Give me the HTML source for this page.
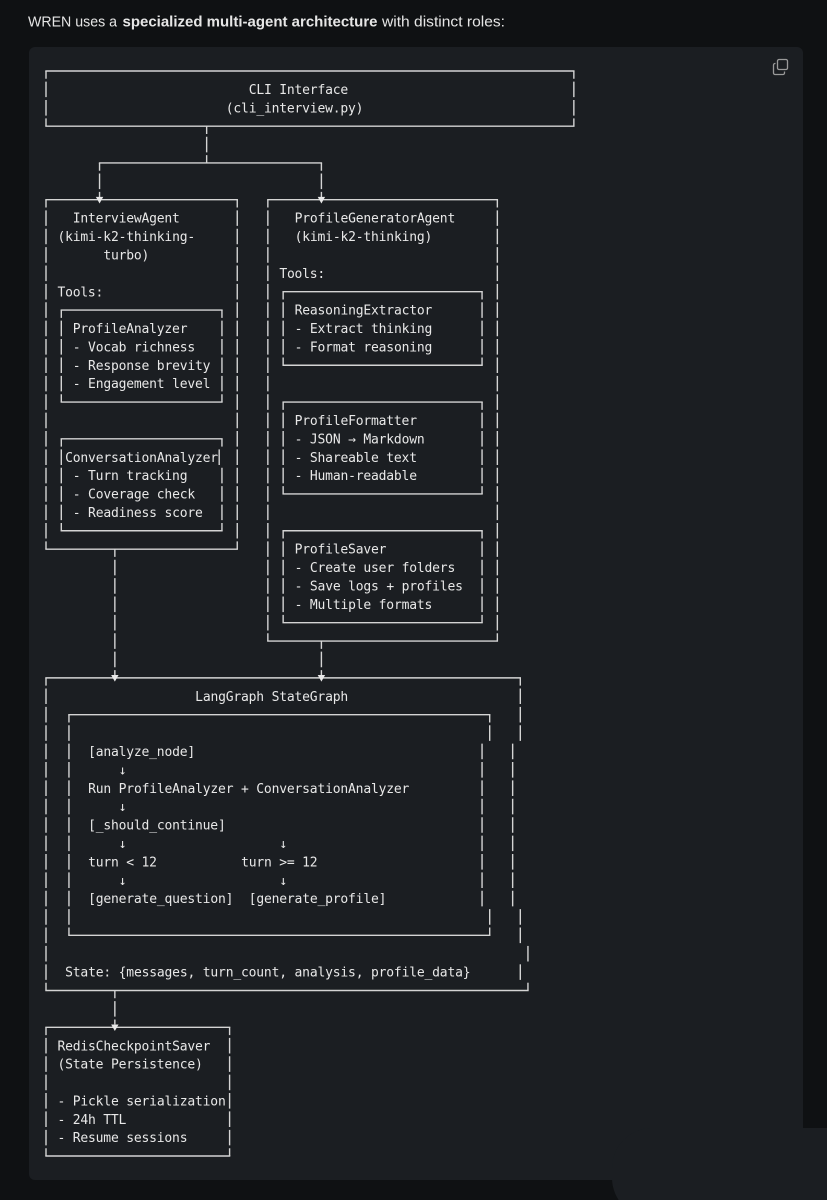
<!DOCTYPE html>
<html>
<head>
<meta charset="utf-8">
<style>
  html,body{margin:0;padding:0;background:#0f1113;}
  body{width:827px;height:1200px;overflow:hidden;}
  svg{display:block;}
  .h{stroke:#d4d4d4;stroke-width:1.4;stroke-linecap:square;fill:none;}
  .v{stroke:#d4d4d4;stroke-width:1.4;stroke-dasharray:15.59 2.8;stroke-dashoffset:7.795;fill:none;}
  .vb{stroke:#d4d4d4;stroke-width:1.4;stroke-dasharray:15.59 2.8;stroke-dashoffset:16.99;fill:none;}
  .t{font-family:"DejaVu Sans Mono","Liberation Mono",monospace;font-size:13px;fill:#e8e8e8;white-space:pre;}
  .tri{fill:#e8e8e8;}
  .hd{font-family:"Liberation Sans",sans-serif;font-size:15px;fill:#e6e6e6;}
</style>
</head>
<body>
<svg width="827" height="1200" viewBox="0 0 827 1200" xmlns="http://www.w3.org/2000/svg">
  <rect x="0" y="0" width="827" height="1200" fill="#0f1113"/>
  <rect x="29" y="47" width="774" height="1133" rx="6" fill="#1b1e22"/>
  <rect x="612" y="1128" width="260" height="90" rx="40" fill="#1b1e22"/>

  <!-- header -->
  <text class="hd" x="28" y="26.5" textLength="89" lengthAdjust="spacingAndGlyphs">WREN uses a</text>
  <text class="hd" x="122.5" y="26.5" font-weight="bold" fill="#f2f2f2" textLength="255" lengthAdjust="spacingAndGlyphs">specialized multi-agent architecture</text>
  <text class="hd" x="382" y="26.5" textLength="123" lengthAdjust="spacingAndGlyphs">with distinct roles:</text>

  <!-- copy icon -->
  <rect x="777.5" y="59.5" width="10" height="10" rx="1.5" fill="none" stroke="#9a9a9a" stroke-width="1.3"/>
  <path d="M775.5 63.5 h-0.5 a1.5 1.5 0 0 0 -1.5 1.5 v8 a1.5 1.5 0 0 0 1.5 1.5 h8 a1.5 1.5 0 0 0 1.5 -1.5 v-1.5" fill="none" stroke="#9a9a9a" stroke-width="1.3"/>

  <!-- ===== Top box ===== -->
  <line class="h" x1="46" y1="71" x2="573.85" y2="71"/>
  <line class="h" x1="46" y1="126.17" x2="573.85" y2="126.17"/>
  <line class="v" x1="46" y1="71" x2="46" y2="126.17"/>
  <line class="v" x1="573.85" y1="71" x2="573.85" y2="126.17"/>
  <text class="t" x="248.725" y="93.99" textLength="99.45" lengthAdjust="spacing">CLI Interface</text>
  <text class="t" x="225.775" y="112.38" textLength="137.7" lengthAdjust="spacing">(cli_interview.py)</text>

  <!-- connector split -->
  <line class="v" x1="206.65" y1="126.17" x2="206.65" y2="162.95"/>
  <line class="h" x1="99.55" y1="162.95" x2="321.4" y2="162.95"/>
  <line class="v" x1="99.55" y1="162.95" x2="99.55" y2="197"/>
  <line class="v" x1="321.4" y1="162.95" x2="321.4" y2="197"/>

  <!-- ===== InterviewAgent box ===== -->
  <line class="h" x1="46" y1="199.73" x2="237.25" y2="199.73"/>
  <line class="h" x1="46" y1="549.14" x2="237.25" y2="549.14"/>
  <line class="v" x1="46" y1="199.73" x2="46" y2="549.14"/>
  <line class="v" x1="237.25" y1="199.73" x2="237.25" y2="549.14"/>
  <polygon class="tri" points="95.85,196.9 103.25,196.9 99.55,203.5"/>
  <text class="t" x="72.775" y="222.72" textLength="107.1" lengthAdjust="spacing">InterviewAgent</text>
  <text class="t" x="57.475" y="241.11" textLength="137.7" lengthAdjust="spacing">(kimi-k2-thinking-</text>
  <text class="t" x="103.375" y="259.5" textLength="45.9" lengthAdjust="spacing">turbo)</text>
  <text class="t" x="57.475" y="296.28" textLength="45.9" lengthAdjust="spacing">Tools:</text>

  <!-- ProfileAnalyzer box -->
  <line class="h" x1="61.3" y1="310.07" x2="221.95" y2="310.07"/>
  <line class="h" x1="61.3" y1="402.02" x2="221.95" y2="402.02"/>
  <line class="v" x1="61.3" y1="310.07" x2="61.3" y2="402.02"/>
  <line class="v" x1="221.95" y1="310.07" x2="221.95" y2="402.02"/>
  <text class="t" x="72.775" y="333.06" textLength="114.75" lengthAdjust="spacing">ProfileAnalyzer</text>
  <text class="t" x="72.775" y="351.45" textLength="122.4" lengthAdjust="spacing">- Vocab richness</text>
  <text class="t" x="72.775" y="369.84" textLength="137.7" lengthAdjust="spacing">- Response brevity</text>
  <text class="t" x="72.775" y="388.23" textLength="137.7" lengthAdjust="spacing">- Engagement level</text>

  <!-- ConversationAnalyzer box -->
  <line class="h" x1="61.3" y1="438.8" x2="221.95" y2="438.8"/>
  <line class="h" x1="61.3" y1="530.75" x2="221.95" y2="530.75"/>
  <line class="v" x1="61.3" y1="438.8" x2="61.3" y2="530.75"/>
  <line class="v" x1="221.95" y1="438.8" x2="221.95" y2="448"/>
  <line class="vb" x1="219.2" y1="448" x2="219.2" y2="466.39"/>
  <line class="vb" x1="221.95" y1="466.39" x2="221.95" y2="530.75"/>
  <text class="t" x="65.125" y="461.79" textLength="153" lengthAdjust="spacing">ConversationAnalyzer</text>
  <text class="t" x="72.775" y="480.18" textLength="114.75" lengthAdjust="spacing">- Turn tracking</text>
  <text class="t" x="72.775" y="498.57" textLength="122.4" lengthAdjust="spacing">- Coverage check</text>
  <text class="t" x="72.775" y="516.96" textLength="130.05" lengthAdjust="spacing">- Readiness score</text>

  <!-- connector Interview -> LangGraph -->
  <line class="v" x1="114.85" y1="549.14" x2="114.85" y2="675"/>

  <!-- ===== ProfileGeneratorAgent box ===== -->
  <line class="h" x1="267.85" y1="199.73" x2="497.35" y2="199.73"/>
  <line class="h" x1="267.85" y1="641.09" x2="497.35" y2="641.09"/>
  <line class="v" x1="267.85" y1="199.73" x2="267.85" y2="641.09"/>
  <line class="v" x1="497.35" y1="199.73" x2="497.35" y2="641.09"/>
  <polygon class="tri" points="317.7,196.9 325.1,196.9 321.4,203.5"/>
  <text class="t" x="294.625" y="222.72" textLength="160.65" lengthAdjust="spacing">ProfileGeneratorAgent</text>
  <text class="t" x="294.625" y="241.11" textLength="137.7" lengthAdjust="spacing">(kimi-k2-thinking)</text>
  <text class="t" x="279.325" y="277.89" textLength="45.9" lengthAdjust="spacing">Tools:</text>

  <!-- ReasoningExtractor -->
  <line class="h" x1="283.15" y1="291.68" x2="482.05" y2="291.68"/>
  <line class="h" x1="283.15" y1="365.24" x2="482.05" y2="365.24"/>
  <line class="v" x1="283.15" y1="291.68" x2="283.15" y2="365.24"/>
  <line class="v" x1="482.05" y1="291.68" x2="482.05" y2="365.24"/>
  <text class="t" x="294.625" y="314.67" textLength="137.7" lengthAdjust="spacing">ReasoningExtractor</text>
  <text class="t" x="294.625" y="333.06" textLength="137.7" lengthAdjust="spacing">- Extract thinking</text>
  <text class="t" x="294.625" y="351.45" textLength="137.7" lengthAdjust="spacing">- Format reasoning</text>

  <!-- ProfileFormatter -->
  <line class="h" x1="283.15" y1="402.02" x2="482.05" y2="402.02"/>
  <line class="h" x1="283.15" y1="493.97" x2="482.05" y2="493.97"/>
  <line class="v" x1="283.15" y1="402.02" x2="283.15" y2="493.97"/>
  <line class="v" x1="482.05" y1="402.02" x2="482.05" y2="493.97"/>
  <text class="t" x="294.625" y="425.01" textLength="122.4" lengthAdjust="spacing">ProfileFormatter</text>
  <text class="t" x="294.625" y="443.4" textLength="130.05" lengthAdjust="spacing">- JSON → Markdown</text>
  <text class="t" x="294.625" y="461.79" textLength="122.4" lengthAdjust="spacing">- Shareable text</text>
  <text class="t" x="294.625" y="480.18" textLength="122.4" lengthAdjust="spacing">- Human-readable</text>

  <!-- ProfileSaver -->
  <line class="h" x1="283.15" y1="530.75" x2="482.05" y2="530.75"/>
  <line class="h" x1="283.15" y1="622.7" x2="482.05" y2="622.7"/>
  <line class="v" x1="283.15" y1="530.75" x2="283.15" y2="622.7"/>
  <line class="v" x1="482.05" y1="530.75" x2="482.05" y2="622.7"/>
  <text class="t" x="294.625" y="553.74" textLength="91.8" lengthAdjust="spacing">ProfileSaver</text>
  <text class="t" x="294.625" y="572.13" textLength="160.65" lengthAdjust="spacing">- Create user folders</text>
  <text class="t" x="294.625" y="590.52" textLength="168.3" lengthAdjust="spacing">- Save logs + profiles</text>
  <text class="t" x="294.625" y="608.91" textLength="137.7" lengthAdjust="spacing">- Multiple formats</text>

  <!-- connector PGA -> LangGraph -->
  <line class="v" x1="321.4" y1="641.09" x2="321.4" y2="675"/>

  <!-- ===== LangGraph outer box ===== -->
  <line class="h" x1="46" y1="677.87" x2="520.3" y2="677.87"/>
  <line class="h" x1="46" y1="990.5" x2="527.95" y2="990.5"/>
  <line class="v" x1="46" y1="677.87" x2="46" y2="990.5"/>
  <line class="v" x1="520.3" y1="677.87" x2="520.3" y2="742.235"/>
  <line class="vb" x1="512.65" y1="742.235" x2="512.65" y2="907.745"/>
  <line class="vb" x1="520.3" y1="907.745" x2="520.3" y2="944.525"/>
  <line class="vb" x1="527.95" y1="944.525" x2="527.95" y2="962.915"/>
  <line class="vb" x1="520.3" y1="962.915" x2="520.3" y2="981.305"/>
  <line class="vb" x1="527.95" y1="981.305" x2="527.95" y2="990.5"/>
  <polygon class="tri" points="111.15,675.05 118.55,675.05 114.85,681.65"/>
  <polygon class="tri" points="317.7,675.05 325.1,675.05 321.4,681.65"/>
  <text class="t" x="195.175" y="700.86" textLength="153" lengthAdjust="spacing">LangGraph StateGraph</text>

  <!-- inner box -->
  <line class="h" x1="68.95" y1="714.65" x2="489.7" y2="714.65"/>
  <line class="h" x1="68.95" y1="935.33" x2="489.7" y2="935.33"/>
  <line class="v" x1="68.95" y1="714.65" x2="68.95" y2="935.33"/>
  <line class="v" x1="489.7" y1="714.65" x2="489.7" y2="742.235"/>
  <line class="vb" x1="482.05" y1="742.235" x2="482.05" y2="907.745"/>
  <line class="vb" x1="489.7" y1="907.745" x2="489.7" y2="935.33"/>

  <text class="t" x="88.075" y="756.03" textLength="107.1" lengthAdjust="spacing">[analyze_node]</text>
  <text class="t" x="118.675" y="774.42">↓</text>
  <text class="t" x="88.075" y="792.81" textLength="321.3" lengthAdjust="spacing">Run ProfileAnalyzer + ConversationAnalyzer</text>
  <text class="t" x="118.675" y="811.2">↓</text>
  <text class="t" x="88.075" y="829.59" textLength="137.7" lengthAdjust="spacing">[_should_continue]</text>
  <text class="t" x="118.675" y="847.98">↓</text>
  <text class="t" x="279.325" y="847.98">↓</text>
  <text class="t" x="88.075" y="866.37" textLength="68.85" lengthAdjust="spacing">turn &lt; 12</text>
  <text class="t" x="241.075" y="866.37" textLength="76.5" lengthAdjust="spacing">turn &gt;= 12</text>
  <text class="t" x="118.675" y="884.76">↓</text>
  <text class="t" x="279.325" y="884.76">↓</text>
  <text class="t" x="88.075" y="903.15" textLength="145.35" lengthAdjust="spacing">[generate_question]</text>
  <text class="t" x="248.725" y="903.15" textLength="137.7" lengthAdjust="spacing">[generate_profile]</text>

  <text class="t" x="65.125" y="976.71" textLength="405.45" lengthAdjust="spacing">State: {messages, turn_count, analysis, profile_data}</text>

  <!-- connector LangGraph -> Redis -->
  <line class="v" x1="114.85" y1="990.5" x2="114.85" y2="1024.4"/>

  <!-- ===== Redis box ===== -->
  <line class="h" x1="46" y1="1027.28" x2="229.6" y2="1027.28"/>
  <line class="h" x1="46" y1="1156.01" x2="229.6" y2="1156.01"/>
  <line class="v" x1="46" y1="1027.28" x2="46" y2="1156.01"/>
  <line class="v" x1="229.6" y1="1027.28" x2="229.6" y2="1156.01"/>
  <polygon class="tri" points="111.15,1024.45 118.55,1024.45 114.85,1031.05"/>
  <text class="t" x="57.475" y="1050.27" textLength="153" lengthAdjust="spacing">RedisCheckpointSaver</text>
  <text class="t" x="57.475" y="1068.66" textLength="145.35" lengthAdjust="spacing">(State Persistence)</text>
  <text class="t" x="57.475" y="1105.44" textLength="168.3" lengthAdjust="spacing">- Pickle serialization</text>
  <text class="t" x="57.475" y="1123.83" textLength="68.85" lengthAdjust="spacing">- 24h TTL</text>
  <text class="t" x="57.475" y="1142.22" textLength="130.05" lengthAdjust="spacing">- Resume sessions</text>
</svg>
</body>
</html>
